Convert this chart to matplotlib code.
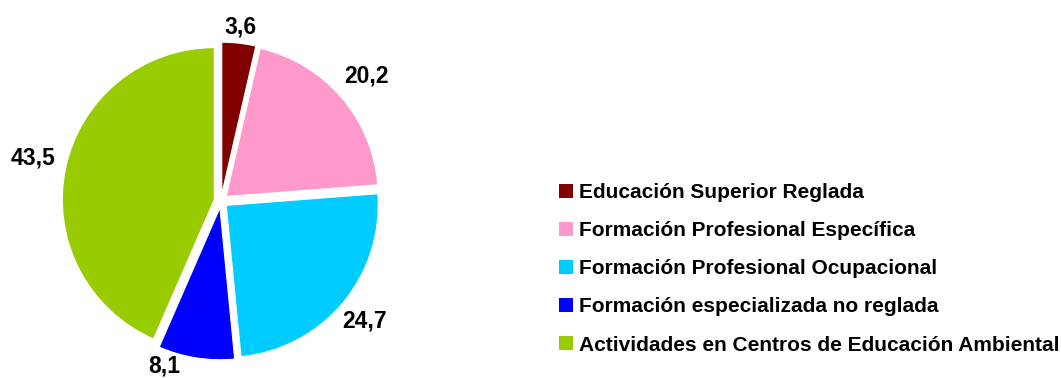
import numpy as np
import matplotlib.pyplot as plt
from matplotlib.patches import Patch

categories = [
    "Educación Superior Reglada",
    "Formación Profesional Específica",
    "Formación Profesional Ocupacional",
    "Formación especializada no reglada",
    "Actividades en Centros de Educación Ambiental",
]
values = [3.6, 20.2, 24.7, 8.1, 43.5]
value_labels = ["3,6", "20,2", "24,7", "8,1", "43,5"]
colors = ["#800000", "#FF99CC", "#00CCFF", "#0000FF", "#99CC00"]

# where each value label sits: distance in pie radii, and an angular nudge (deg)
label_dist = [1.15, 1.26, 1.23, 1.15, 1.27]
label_nudge = [0, 0, 0, -10, -1]

plt.rcParams["font.family"] = ["Liberation Sans", "DejaVu Sans"]

W, H = 1061, 378
fig = plt.figure(figsize=(W / 100, H / 100), dpi=100)

# square axes so that one data unit is 152 px, pie centre at (221, 201) px
r_px = 152
lim = 1.3
size = 2 * lim * r_px
cx, cy = 221, H - 201
ax = fig.add_axes([(cx - size / 2) / W, (cy - size / 2) / H, size / W, size / H])

wedges, _ = ax.pie(
    values,
    colors=colors,
    startangle=90,
    counterclock=False,
    explode=[0.045] * len(values),
    wedgeprops=dict(edgecolor="white", linewidth=0.8),
)
# pie() resets the limits, so set them afterwards
ax.set_xlim(-lim, lim)
ax.set_ylim(-lim, lim)
ax.set_aspect("equal")
ax.axis("off")

for w, text, d, nudge in zip(wedges, value_labels, label_dist, label_nudge):
    ang = np.deg2rad((w.theta1 + w.theta2) / 2 + nudge)
    ax.text(d * np.cos(ang), d * np.sin(ang), text, ha="center", va="center",
            fontsize=16.5, fontweight="bold", clip_on=False)

handles = [Patch(facecolor=c, edgecolor="none") for c in colors]
fig.legend(
    handles, categories,
    loc="upper left", bbox_to_anchor=(559 / W, 1 - 183 / H),
    frameon=False, borderpad=0, borderaxespad=0,
    prop=dict(size=15, weight="bold"),
    handlelength=0.67, handleheight=0.67, handletextpad=0.3,
    labelspacing=0.92,
)

fig.savefig("out.png", dpi=100, facecolor="white")
